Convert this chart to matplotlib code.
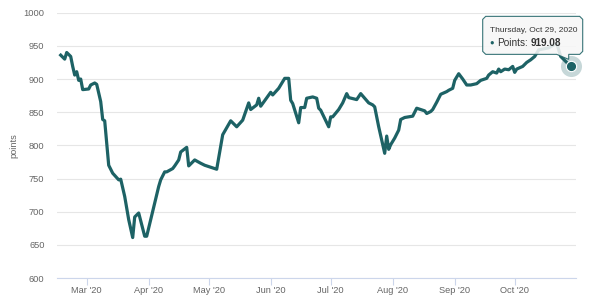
import numpy as np
import matplotlib
matplotlib.use("Agg")
import matplotlib.pyplot as plt
import matplotlib.dates as mdates
from matplotlib.path import Path
from matplotlib.patches import PathPatch

plt.rcParams['font.family'] = ['Liberation Sans', 'DejaVu Sans']

# values
dates = [
    "2020-02-17", "2020-02-19", "2020-02-20", "2020-02-22", "2020-02-23", "2020-02-24",
    "2020-02-25", "2020-02-26", "2020-02-27", "2020-02-28", "2020-03-02", "2020-03-03",
    "2020-03-05", "2020-03-06", "2020-03-08", "2020-03-09", "2020-03-10", "2020-03-12",
    "2020-03-14", "2020-03-17", "2020-03-18", "2020-03-20", "2020-03-22", "2020-03-24",
    "2020-03-25", "2020-03-27", "2020-03-30", "2020-03-31", "2020-04-02", "2020-04-06",
    "2020-04-07", "2020-04-09", "2020-04-10", "2020-04-13", "2020-04-14", "2020-04-16",
    "2020-04-17", "2020-04-20", "2020-04-21", "2020-04-24", "2020-04-27", "2020-04-29",
    "2020-05-01", "2020-05-05", "2020-05-08", "2020-05-12", "2020-05-15", "2020-05-18",
    "2020-05-21", "2020-05-22", "2020-05-25", "2020-05-26", "2020-05-27", "2020-06-01",
    "2020-06-02", "2020-06-05", "2020-06-08", "2020-06-10", "2020-06-11", "2020-06-12",
    "2020-06-15", "2020-06-16", "2020-06-18", "2020-06-19", "2020-06-22", "2020-06-24",
    "2020-06-25", "2020-06-26", "2020-06-30", "2020-07-01", "2020-07-02", "2020-07-05",
    "2020-07-07", "2020-07-09", "2020-07-10", "2020-07-14", "2020-07-16", "2020-07-18",
    "2020-07-20", "2020-07-22", "2020-07-23", "2020-07-25", "2020-07-28", "2020-07-29",
    "2020-07-30", "2020-07-31", "2020-08-02", "2020-08-04", "2020-08-05", "2020-08-07",
    "2020-08-11", "2020-08-13", "2020-08-17", "2020-08-18", "2020-08-20", "2020-08-21",
    "2020-08-23", "2020-08-25", "2020-08-28", "2020-08-29", "2020-08-31", "2020-09-01",
    "2020-09-03", "2020-09-05", "2020-09-07", "2020-09-09", "2020-09-12", "2020-09-14",
    "2020-09-17", "2020-09-18", "2020-09-20", "2020-09-22", "2020-09-23", "2020-09-24",
    "2020-09-26", "2020-09-28", "2020-09-30", "2020-10-01", "2020-10-02", "2020-10-05",
    "2020-10-07", "2020-10-09", "2020-10-11", "2020-10-13", "2020-10-18", "2020-10-22",
    "2020-10-24", "2020-10-29",
]
points = [
    936, 930, 940, 934, 919, 906,
    911, 898, 900, 884, 885, 891,
    894, 892, 866, 839, 837, 770,
    758, 748, 749, 723, 688, 661,
    692, 698, 663, 663, 688, 738,
    748, 760, 760, 765, 769, 778,
    790, 797, 769, 778, 773, 770,
    768, 764, 816, 837, 828, 838,
    864, 854, 861, 871, 859, 880,
    876, 886, 901, 901, 868, 863,
    834, 857, 857, 871, 873, 871,
    856, 853, 828, 843, 843, 854,
    864, 878, 872, 869, 878, 871,
    864, 861, 858, 828, 788, 814,
    794, 801, 811, 823, 839, 842,
    844, 856, 852, 848, 851, 854,
    865, 877, 881, 883, 886, 898,
    908, 900, 891, 891, 893, 898,
    901, 906, 911, 909, 915, 911,
    915, 914, 919, 910, 915, 919,
    925, 929, 934, 944, 947, 954,
    934, 919.08,
]
month_ticks = ["2020-03-01", "2020-04-01", "2020-05-01", "2020-06-01",
               "2020-07-01", "2020-08-01", "2020-09-01", "2020-10-01"]
month_labels = ["Mar '20", "Apr '20", "May '20", "Jun '20",
                "Jul '20", "Aug '20", "Sep '20", "Oct '20"]
y_ticks = [600, 650, 700, 750, 800, 850, 900, 950, 1000]
tip_header = "Thursday, Oct 29, 2020"
tip_label = "Points:"
tip_value = "919.08"

line_color = '#1d6265'
text_grey = '#666666'

x = np.array(dates, dtype='datetime64[D]')
y = np.array(points)

fig = plt.figure(figsize=(6, 3), dpi=100)
ax = fig.add_axes([0.095, 0.0733, 0.865, 0.8844])

ax.plot(x, y, color=line_color, lw=2.3, solid_joinstyle='round', zorder=3)

# hovered point with halo
ax.scatter(x[-1:], y[-1:], s=230, color=line_color, alpha=0.25, lw=0, zorder=4, clip_on=False)
ax.scatter(x[-1:], y[-1:], s=55, color=line_color, edgecolor='white', lw=0.8, zorder=5, clip_on=False)

x0 = mdates.date2num(np.datetime64("2020-03-01"))
ax.set_xlim(x0 - 14.85, x0 + 244.65)
ax.set_ylim(600, 1000)
ax.set_yticks(y_ticks)
ax.set_xticks(np.array(month_ticks, dtype='datetime64[D]'))
ax.set_xticklabels(month_labels)

ax.grid(axis='y', color='#e6e6e6', lw=0.8)
ax.set_axisbelow(True)
for s in ['top', 'right', 'left']:
    ax.spines[s].set_visible(False)
ax.spines['bottom'].set_color('#ccd6eb')
ax.spines['bottom'].set_linewidth(0.8)
ax.tick_params(axis='y', length=0, pad=9, labelsize=6.7, labelcolor=text_grey)
ax.tick_params(axis='x', length=5, width=0.8, color='#ccd6eb', pad=1,
               labelsize=6.7, labelcolor=text_grey)
ax.set_ylabel('points', fontsize=6.7, color=text_grey, va='center')
ax.yaxis.set_label_coords(-0.083, 0.5)

# tooltip callout, in pixel coordinates relative to the hovered point
mx, my = ax.transData.transform((mdates.date2num(x[-1]), y[-1]))
L, R = mx - 88, mx + 12
T, B = my + 50, my + 12
r = 3
tip = (mx - 2, my + 7)
verts = [(L + r, B), (mx - 14, B), tip, (mx - 2, B), (R - r, B), (R, B + r),
         (R, T - r), (R - r, T), (L + r, T), (L, T - r), (L, B + r), (L + r, B)]
codes = [Path.MOVETO] + [Path.LINETO] * (len(verts) - 1)
callout = PathPatch(Path(verts, codes), transform=None, facecolor='#f7f7f7',
                    edgecolor=line_color, lw=0.8, alpha=0.88, zorder=6)
fig.artists.append(callout)
callout.set_figure(fig)

fig.text(L + 7, T - 14, tip_header, transform=None, fontsize=6.0,
         color='#333333', va='center', ha='left', zorder=7)
fig.text(L + 7, T - 27, '\u25cf', transform=None, fontsize=5.5,
         color=line_color, va='center', ha='left', zorder=7)
lab = fig.text(L + 14, T - 27, tip_label, transform=None, fontsize=7.2,
               color='#333333', va='center', ha='left', zorder=7)
fig.canvas.draw()
bb = lab.get_window_extent()
fig.text(bb.x1 + 3, T - 27, tip_value, transform=None, fontsize=7.2,
         fontweight='bold', color='#333333', va='center', ha='left', zorder=7)

fig.savefig('out.png', dpi=100)
